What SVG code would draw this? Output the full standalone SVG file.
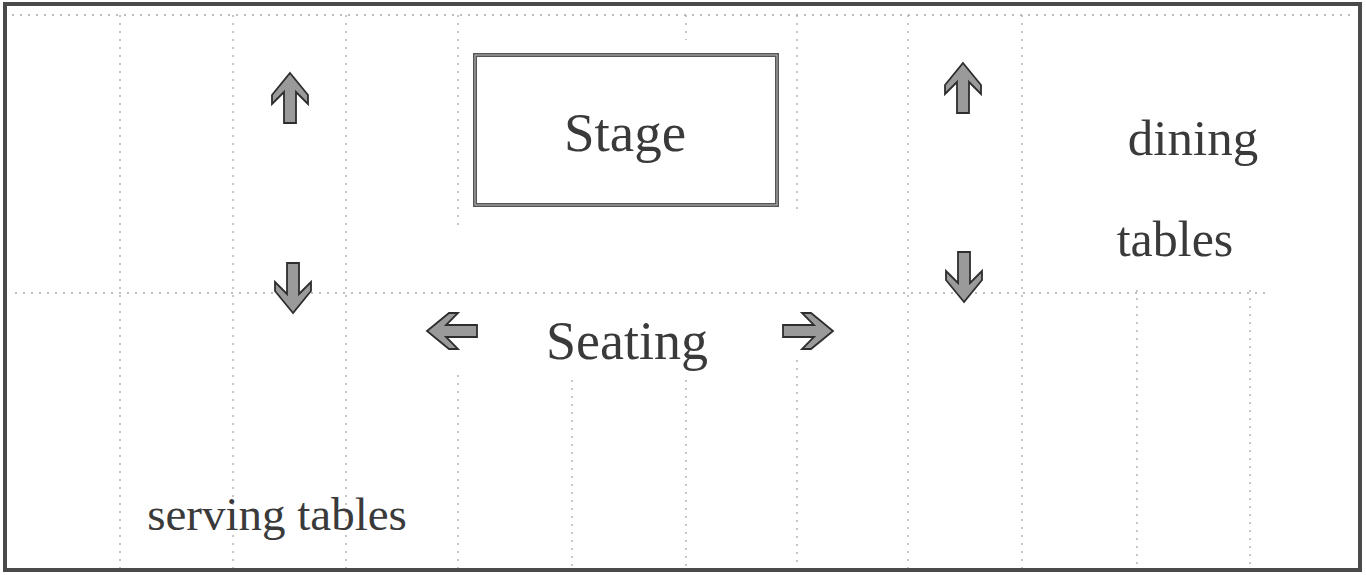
<svg xmlns="http://www.w3.org/2000/svg" xmlns:xlink="http://www.w3.org/1999/xlink" width="1366" height="575" viewBox="0 0 1366 575">
<style>
.grid{stroke:#a8a8a8;stroke-width:1.3;stroke-dasharray:2 6;fill:none}
.lbl{font-family:"Liberation Serif","Times New Roman",serif;fill:#3a3a3a}
.arr{fill:#9a9a9a;stroke:#2e2e2e;stroke-width:1.8;stroke-linejoin:miter}
</style>
<defs>
<path id="up" d="M0,-25 L18,-3 L18,6 L6,-6 L6,25 L-6,25 L-6,-6 L-18,6 L-18,-3 Z"/>
</defs>
<rect width="1366" height="575" fill="#ffffff"/>
<g id="grid">
<line class="grid" x1="12" y1="15" x2="1352" y2="15"/>
<line class="grid" x1="15" y1="293" x2="1270" y2="293"/>
<line class="grid" x1="120" y1="15" x2="120" y2="568"/>
<line class="grid" x1="233" y1="15" x2="233" y2="568"/>
<line class="grid" x1="346" y1="15" x2="346" y2="568"/>
<line class="grid" x1="458" y1="15" x2="458" y2="230"/>
<line class="grid" x1="458" y1="375" x2="458" y2="568"/>
<line class="grid" x1="572" y1="380" x2="572" y2="568"/>
<line class="grid" x1="686" y1="15" x2="686" y2="40"/>
<line class="grid" x1="686" y1="380" x2="686" y2="568"/>
<line class="grid" x1="797" y1="15" x2="797" y2="210"/>
<line class="grid" x1="797" y1="360" x2="797" y2="568"/>
<line class="grid" x1="908" y1="15" x2="908" y2="568"/>
<line class="grid" x1="1022" y1="15" x2="1022" y2="568"/>
<line class="grid" x1="1137" y1="290" x2="1137" y2="568"/>
<line class="grid" x1="1250" y1="290" x2="1250" y2="568"/>
</g>
<rect x="5" y="4" width="1355" height="566" fill="none" stroke="#4a4a4a" stroke-width="4"/>
<g id="stage">
<rect x="475" y="55" width="302" height="150" fill="none" stroke="#555" stroke-width="4"/>
<rect x="475" y="55" width="302" height="150" fill="none" stroke="#bbb" stroke-width="1"/>
<text class="lbl" x="625" y="151" font-size="55" font-family="Liberation Serif, serif" text-anchor="middle">Stage</text>
</g>
<g id="seating">
<text class="lbl" x="627" y="359" font-size="54" font-family="Liberation Serif, serif" text-anchor="middle">Seating</text>
</g>
<g id="dining">
<text class="lbl" x="1193" y="155" font-size="51" font-family="Liberation Serif, serif" text-anchor="middle">dining</text>
<text class="lbl" x="1175" y="256" font-size="50" font-family="Liberation Serif, serif" text-anchor="middle">tables</text>
</g>
<g id="serving">
<text class="lbl" x="277" y="530" font-size="47" font-family="Liberation Serif, serif" text-anchor="middle">serving tables</text>
</g>
<g id="arrows">
<use href="#up" class="arr" transform="translate(290,98)"/>
<use href="#up" class="arr" transform="translate(293,288) rotate(180)"/>
<use href="#up" class="arr" transform="translate(452,331) rotate(-90)"/>
<use href="#up" class="arr" transform="translate(808,331) rotate(90)"/>
<use href="#up" class="arr" transform="translate(963,88)"/>
<use href="#up" class="arr" transform="translate(964,277) rotate(180)"/>
</g>
</svg>
